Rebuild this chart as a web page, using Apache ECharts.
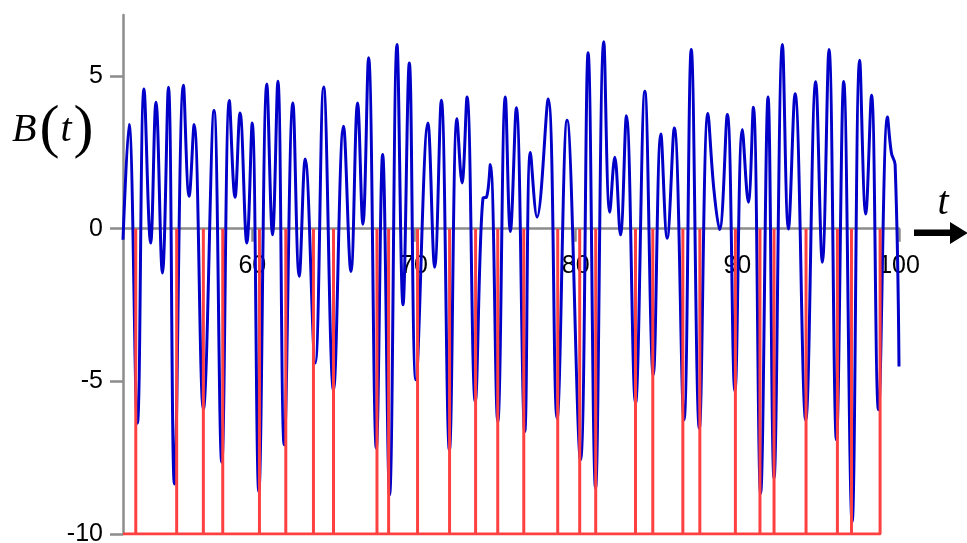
<!DOCTYPE html>
<html>
<head>
<meta charset="utf-8">
<script src="https://cdn.jsdelivr.net/npm/echarts@6/dist/echarts.min.js"></script>
<style>html,body{margin:0;padding:0;background:#fff;}#c{width:967px;height:543px;}</style>
</head>
<body>
<div id="c"></div>
<script>
// Blue curve B(t): times and values (extrema and shoulders)
const tValues = [52.0, 52.37, 52.89, 53.30, 53.71, 54.04, 54.44, 54.81, 55.18, 55.74, 56.09, 56.40, 56.97, 57.63, 58.11, 58.58, 58.93, 59.24, 59.66, 59.99, 60.40, 60.90, 61.25, 61.58, 61.97, 62.51, 62.90, 63.27, 63.89, 64.41, 65.02, 65.64, 66.10, 66.51, 66.84, 67.19, 67.67, 68.06, 68.49, 68.95, 69.32, 69.71, 70.12, 70.86, 71.28, 71.69, 72.19, 72.66, 72.97, 73.28, 73.79, 74.27, 74.48, 74.72, 75.18, 75.65, 75.96, 76.33, 76.85, 77.20, 77.61, 78.30, 78.85, 79.47, 80.30, 80.77, 81.23, 81.74, 82.11, 82.42, 82.77, 83.14, 83.70, 84.28, 84.80, 85.27, 85.66, 86.10, 86.70, 87.15, 87.65, 88.18, 88.55, 88.90, 89.38, 89.85, 90.31, 90.68, 90.99, 91.44, 91.90, 92.27, 92.79, 93.16, 93.57, 94.23, 94.85, 95.26, 95.67, 96.13, 96.58, 97.10, 97.57, 97.94, 98.30, 98.73, 99.29, 99.53, 99.76, 100.0];
const bValues = [-0.36, 3.41, -6.37, 4.58, -0.47, 4.14, -1.45, 4.63, -8.36, 4.70, 1.06, 3.41, -5.91, 3.87, -7.65, 4.20, 1.03, 3.79, -0.47, 3.46, -8.61, 4.74, -0.20, 4.83, -7.08, 4.12, -1.56, 2.28, -4.40, 4.64, -5.28, 3.36, -1.40, 4.12, 0.15, 5.60, -7.19, 2.43, -8.72, 6.03, -2.49, 5.43, -4.95, 3.46, -1.26, 4.21, -7.25, 3.60, 1.50, 4.31, -5.66, 1.01, 1.03, 2.10, -6.32, 4.31, -0.09, 3.96, -6.64, 2.50, 0.38, 4.25, -6.21, 3.55, -7.57, 5.76, -8.50, 6.12, 0.54, 2.34, -0.20, 3.70, -5.72, 4.50, -4.79, 3.10, -0.31, 3.30, -6.26, 5.87, -6.54, 3.77, 1.28, -0.03, 3.74, -5.33, 3.25, 0.87, 3.98, -8.67, 4.31, -8.17, 6.03, -0.01, 4.42, -6.26, 4.81, -1.10, 5.87, -6.92, 4.82, -9.60, 5.52, 0.48, 4.37, -5.93, 3.66, 2.48, 2.10, -4.51];
// Red spike times (vertical lines from 0 to -10)
const spikeTimes = [52.79, 55.32, 56.97, 58.17, 60.44, 62.07, 63.78, 65.02, 67.71, 68.43, 70.22, 72.20, 73.81, 75.18, 76.79, 78.89, 80.25, 81.24, 83.70, 84.77, 86.63, 87.68, 89.88, 91.40, 92.27, 94.25, 96.19, 97.06, 98.83];
const spikeTop = 0;
const spikeBottom = -10;
const xTicks = [60, 70, 80, 90, 100];
const yTicks = [-10, -5, 0, 5];
const xMin = 52, xMax = 100, yMin = -10, yMax = 7;

const blueData = tValues.map((t, i) => [t, bValues[i]]);
const redData = [[xMin, spikeBottom]];
spikeTimes.forEach(t => { redData.push([t, spikeBottom], [t, spikeTop], [t, spikeBottom]); });

const gridTop = 15, gridBottom = 9, H = 543;
const plotH = H - gridTop - gridBottom;
// x axis sits at value 0: shift it up from the grid bottom by the pixel distance of 0 above yMin
const zeroOffset = -plotH * (0 - yMin) / (yMax - yMin);

const chart = echarts.init(document.getElementById('c'), null, {renderer: 'canvas'});
const axisGray = '#8c8c8c';
chart.setOption({
  animation: false,
  backgroundColor: '#ffffff',
  grid: {left: 123, right: 68, top: gridTop, bottom: gridBottom, containLabel: false, outerBoundsMode: 'none'},
  xAxis: {
    type: 'value', min: xMin, max: xMax, position: 'bottom', offset: zeroOffset,
    axisLine: {show: true, onZero: false, lineStyle: {color: axisGray, width: 2.5}},
    axisTick: {show: true, customValues: xTicks, length: 13, lineStyle: {color: axisGray, width: 2.5}},
    axisLabel: {show: true, customValues: xTicks, margin: 25, color: '#000', fontSize: 25, fontFamily: 'Liberation Sans', hideOverlap: false},
    splitLine: {show: false}
  },
  yAxis: {
    type: 'value', min: yMin, max: yMax,
    axisLine: {show: true, onZero: false, lineStyle: {color: axisGray, width: 2.5}},
    axisTick: {show: true, customValues: yTicks, length: 13, lineStyle: {color: axisGray, width: 2.5}},
    axisLabel: {show: true, customValues: yTicks, margin: 20, color: '#000', fontSize: 25, fontFamily: 'Liberation Sans'},
    splitLine: {show: false}
  },
  series: [
    {
      type: 'line', data: blueData, smooth: 0.4, showSymbol: false, symbol: 'none', z: 2,
      lineStyle: {color: '#0000c8', width: 3}
    },
    {
      type: 'line', data: redData, smooth: false, showSymbol: false, symbol: 'none', z: 3,
      lineStyle: {color: '#ff4040', width: 3}
    }
  ],
  graphic: [
    {
      type: 'text', left: 12, top: 100, z: 10,
      style: {
        text: '{b|B}{p|(}{t|t}{p|)}',
        rich: {
          b: {fontFamily: 'Liberation Serif', fontStyle: 'italic', fontSize: 40, fill: '#000', verticalAlign: 'middle', padding: [0, 3, 0, 0]},
          p: {fontFamily: 'Liberation Serif', fontSize: 60, fill: '#000', verticalAlign: 'middle'},
          t: {fontFamily: 'Liberation Serif', fontStyle: 'italic', fontSize: 40, fill: '#000', verticalAlign: 'middle', padding: [0, 2, 0, 1]}
        }
      }
    },
    {
      type: 'text', x: 943, y: 203, z: 10,
      style: {text: 't', fontFamily: 'Liberation Serif', fontStyle: 'italic', fontSize: 40, fill: '#000', align: 'center', verticalAlign: 'middle'}
    },
    {
      type: 'polygon', z: 10,
      shape: {points: [[914, 229.5], [950, 229.5], [950, 222], [968, 233], [950, 244], [950, 236], [914, 236]]},
      style: {fill: '#000'}
    }
  ]
});
</script>
</body>
</html>
